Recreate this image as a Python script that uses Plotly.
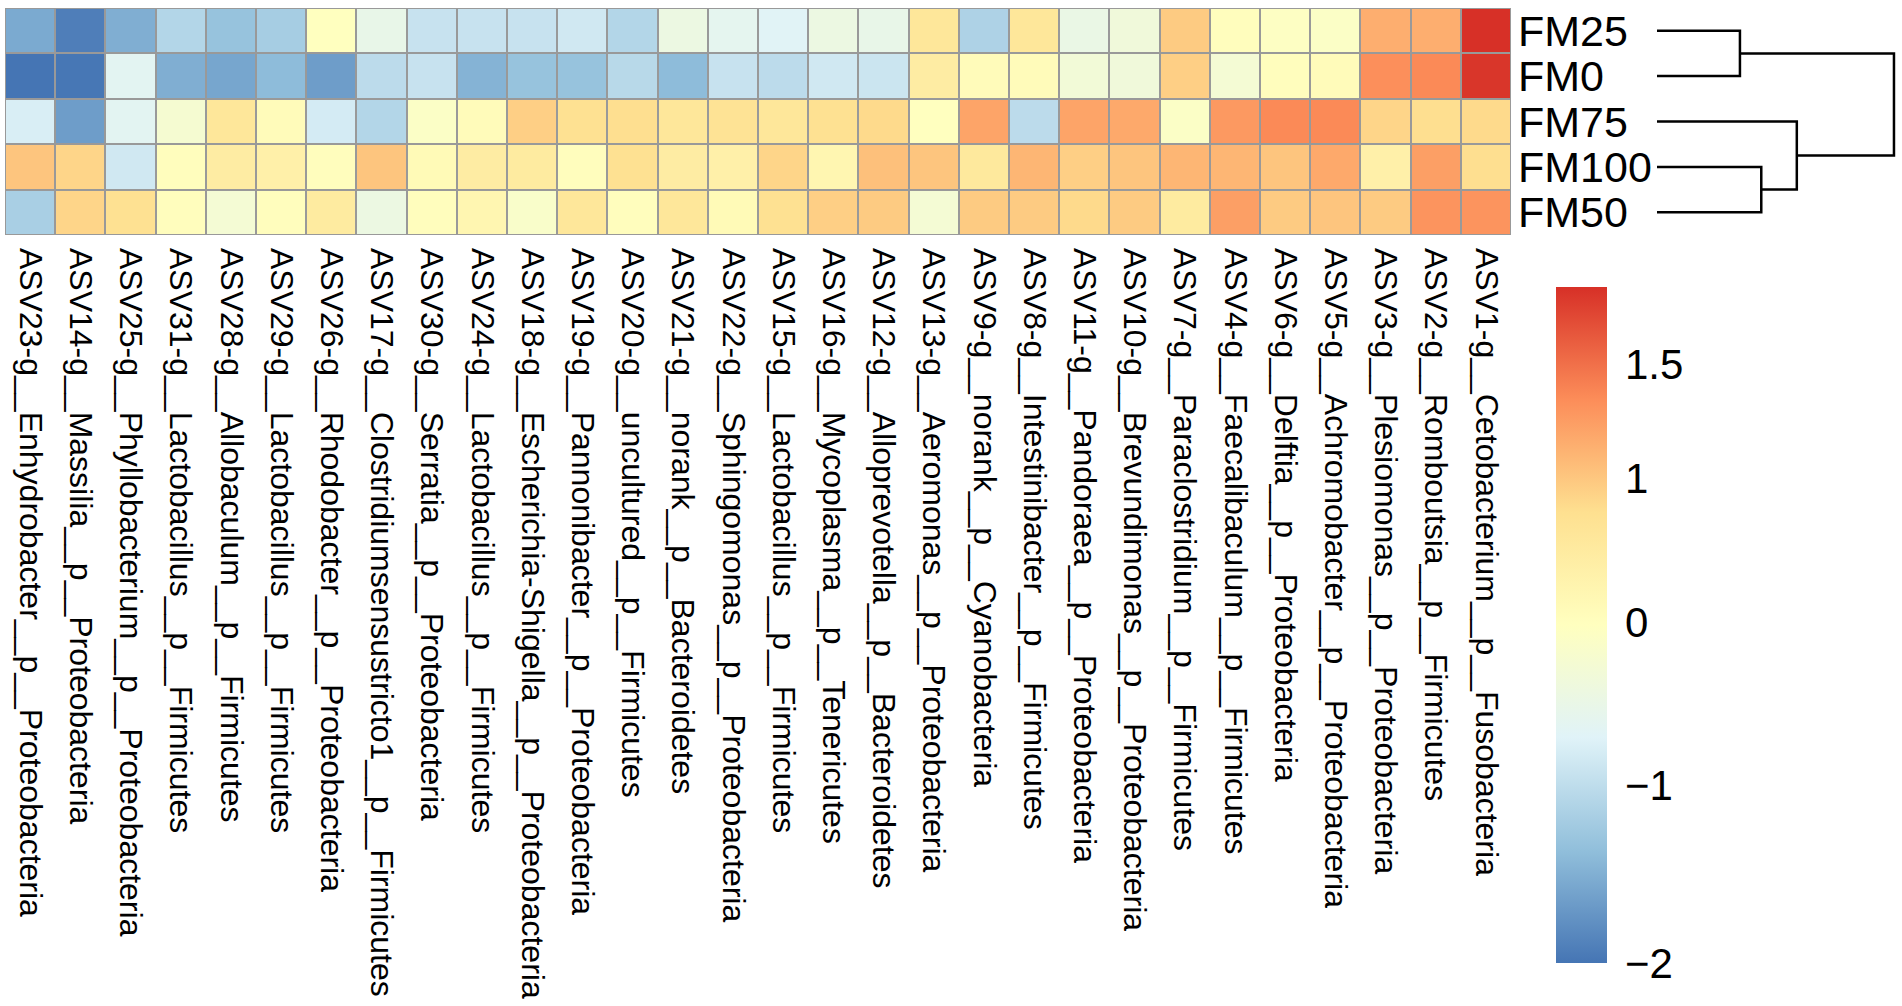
import numpy as np
import plotly.graph_objects as go

# rows top to bottom (order given by the clustering)
samples = ["FM25", "FM0", "FM75", "FM100", "FM50"]

taxa = [
    "ASV23-g__Enhydrobacter__p__Proteobacteria",
    "ASV14-g__Massilia__p__Proteobacteria",
    "ASV25-g__Phyllobacterium__p__Proteobacteria",
    "ASV31-g__Lactobacillus__p__Firmicutes",
    "ASV28-g__Allobaculum__p__Firmicutes",
    "ASV29-g__Lactobacillus__p__Firmicutes",
    "ASV26-g__Rhodobacter__p__Proteobacteria",
    "ASV17-g__Clostridiumsensustricto1__p__Firmicutes",
    "ASV30-g__Serratia__p__Proteobacteria",
    "ASV24-g__Lactobacillus__p__Firmicutes",
    "ASV18-g__Escherichia-Shigella__p__Proteobacteria",
    "ASV19-g__Pannonibacter__p__Proteobacteria",
    "ASV20-g__uncultured__p__Firmicutes",
    "ASV21-g__norank__p__Bacteroidetes",
    "ASV22-g__Sphingomonas__p__Proteobacteria",
    "ASV15-g__Lactobacillus__p__Firmicutes",
    "ASV16-g__Mycoplasma__p__Tenericutes",
    "ASV12-g__Alloprevotella__p__Bacteroidetes",
    "ASV13-g__Aeromonas__p__Proteobacteria",
    "ASV9-g__norank__p__Cyanobacteria",
    "ASV8-g__Intestinibacter__p__Firmicutes",
    "ASV11-g__Pandoraea__p__Proteobacteria",
    "ASV10-g__Brevundimonas__p__Proteobacteria",
    "ASV7-g__Paraclostridium__p__Firmicutes",
    "ASV4-g__Faecalibaculum__p__Firmicutes",
    "ASV6-g__Delftia__p__Proteobacteria",
    "ASV5-g__Achromobacter__p__Proteobacteria",
    "ASV3-g__Plesiomonas__p__Proteobacteria",
    "ASV2-g__Romboutsia__p__Firmicutes",
    "ASV1-g__Cetobacterium__p__Fusobacteria",
]

fm25 = [-1.55, -1.92, -1.51, -1.09, -1.32, -1.20, -0.02, -0.52, -0.93, -0.93,
        -0.93, -0.85, -1.09, -0.44, -0.60, -0.68, -0.44, -0.52, 0.59, -1.13,
        0.59, -0.48, -0.35, 0.96, 0.02, -0.06, -0.10, 1.15, 1.15, 1.84]
fm0 = [-2.00, -1.98, -0.64, -1.51, -1.58, -1.39, -1.66, -1.02, -0.93, -1.47,
       -1.32, -1.32, -1.05, -1.39, -0.93, -1.02, -0.85, -0.89, 0.45, 0.07,
       0.07, -0.31, -0.35, 0.92, -0.27, 0.02, 0.07, 1.33, 1.36, 1.81]
fm75 = [-0.77, -1.66, -0.64, -0.23, 0.59, 0.07, -0.81, -1.09, -0.10, 0.07,
        0.92, 0.73, 0.77, 0.59, 0.68, 0.59, 0.73, 0.82, -0.02, 1.21,
        -1.02, 1.21, 1.18, -0.10, 1.27, 1.36, 1.36, 0.87, 0.77, 0.82]
fm100 = [1.01, 0.87, -0.85, 0.02, 0.45, 0.35, 0.02, 1.01, 0.12, 0.45,
         0.49, 0.02, 0.73, 0.45, 0.35, 0.87, 0.21, 1.04, 1.01, 0.54,
         1.10, 0.92, 1.01, 1.10, 1.10, 1.01, 1.18, 0.35, 1.24, 0.77]
fm50 = [-1.17, 0.87, 0.73, 0.02, -0.27, 0.02, 0.49, -0.44, 0.02, 0.21,
        -0.15, 0.59, 0.02, 0.59, 0.12, 0.73, 0.92, 0.96, -0.27, 0.96,
        0.96, 0.82, 0.96, 0.49, 1.24, 0.96, 1.01, 0.96, 1.30, 1.30]

# legend ticks and where they sit along the colour bar (bottom = 0, top = 1)
legend_vals = [-2, -1, 0, 1, 1.5]
legend_text = ["\u22122", "\u22121", "0", "1", "1.5"]
legend_pos = [0.0, 0.263, 0.504, 0.717, 0.886]
legend_top = 1.84

# row dendrogram, scipy style: leaves 0-4, merged nodes 5, 6, ...
link_a = [0, 3, 2, 5]
link_b = [1, 4, 6, 7]
link_h = [3.5, 4.4, 5.9, 10.0]

palette = ["#4575B4", "#91BFDB", "#E0F3F8", "#FFFFBF", "#FEE090", "#FC8D59", "#D73027"]
colorscale = [[i / (len(palette) - 1), c] for i, c in enumerate(palette)]
FONT = "Liberation Sans, Arial, sans-serif"
W, H = 1902, 1006


def px_x(v):
    return v / W


def px_y(v):
    return 1 - v / H


z = np.array([fm25, fm0, fm75, fm100, fm50])
z_pos = np.interp(z, legend_vals + [legend_top], legend_pos + [1.0])

fig = go.Figure()
fig.add_trace(go.Heatmap(
    z=z_pos,
    x=list(range(len(taxa))),
    y=list(range(len(samples))),
    customdata=z,
    text=[[t for t in taxa] for _ in samples],
    hovertemplate="%{text}<br>%{customdata:.2f}<extra></extra>",
    colorscale=colorscale,
    zmin=0,
    zmax=1,
    xgap=2,
    ygap=2,
    colorbar=dict(
        x=px_x(1556), xanchor="left", xpad=0,
        y=px_y(625), yanchor="middle", ypad=0,
        len=676, lenmode="pixels",
        thickness=51, thicknessmode="pixels",
        outlinewidth=0,
        tickvals=legend_pos,
        ticktext=legend_text,
        ticks="outside", ticklen=10, tickcolor="rgba(0,0,0,0)",
        tickfont=dict(family=FONT, size=42, color="black"),
    ),
))

# dendrogram
ypos = {i: float(i) for i in range(len(samples))}
xpos = {i: 0.0 for i in range(len(samples))}
dx, dy = [], []
for k, (a, b, h) in enumerate(zip(link_a, link_b, link_h)):
    node = len(samples) + k
    dx += [xpos[a], h, h, xpos[b], None]
    dy += [ypos[a], ypos[a], ypos[b], ypos[b], None]
    xpos[node] = h
    ypos[node] = (ypos[a] + ypos[b]) / 2
fig.add_trace(go.Scatter(
    x=dx, y=dy, xaxis="x2", yaxis="y", mode="lines",
    line=dict(color="black", width=2.5),
    hoverinfo="skip", showlegend=False, cliponaxis=False,
))

fig.add_shape(
    type="rect", xref="x", yref="y",
    x0=-0.5, x1=len(taxa) - 0.5, y0=-0.5, y1=len(samples) - 0.5,
    fillcolor="#999999", line=dict(color="#999999", width=3), layer="below",
)

fig.update_layout(
    width=W,
    height=H,
    margin=dict(l=0, r=0, t=0, b=0),
    paper_bgcolor="white",
    plot_bgcolor="white",
    font=dict(family=FONT, color="black"),
    showlegend=False,
    xaxis=dict(
        domain=[px_x(5), px_x(1511)],
        range=[-0.5, len(taxa) - 0.5],
        tickvals=list(range(len(taxa))),
        ticktext=taxa,
        tickangle=90,
        tickfont=dict(size=32),
        ticks="",
        ticklabelstandoff=12,
        showgrid=False, zeroline=False, showline=False,
        automargin=False, fixedrange=True,
    ),
    yaxis=dict(
        domain=[px_y(235), px_y(8)],
        range=[len(samples) - 0.5, -0.5],
        side="right",
        tickvals=list(range(len(samples))),
        ticktext=samples,
        tickfont=dict(size=43),
        ticks="",
        ticklabelstandoff=6,
        showgrid=False, zeroline=False, showline=False,
        automargin=False, fixedrange=True,
    ),
    xaxis2=dict(
        domain=[px_x(1657), px_x(1898)],
        anchor="y",
        range=[0, max(link_h) * 1.017],
        visible=False,
        fixedrange=True,
    ),
)

# the page's default body margin would push the figure 8px right/down
fig.write_html(
    "out.html",
    config={"displayModeBar": False},
    post_script="document.body.style.margin = '0px';",
)
